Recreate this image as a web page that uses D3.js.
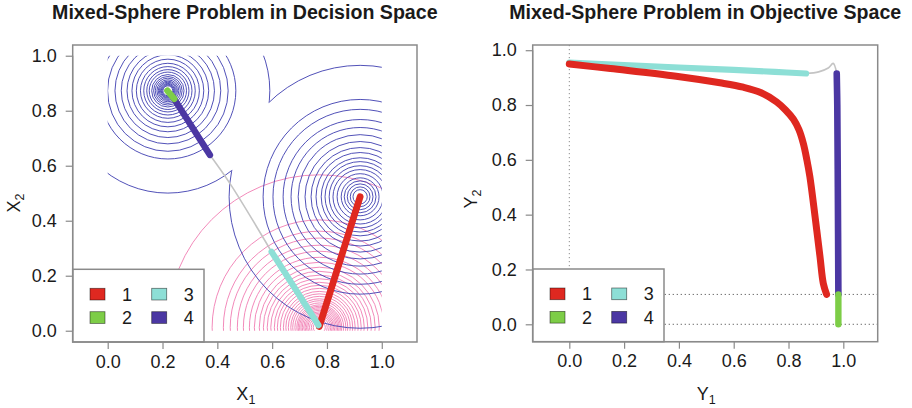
<!DOCTYPE html>
<html><head><meta charset="utf-8">
<script src="https://cdn.jsdelivr.net/npm/d3@7"></script>
<style>body{margin:0;background:#fff;} svg{display:block;font-family:"Liberation Sans",Arial,Helvetica,sans-serif;}</style>
</head><body><svg id="c" width="912" height="408"></svg>
<script>
// ---------- data ----------
const tickValues = [0, 0.2, 0.4, 0.6, 0.8, 1.0];
const tickLabels = ["0.0", "0.2", "0.4", "0.6", "0.8", "1.0"];
const legendLabels = ["1", "2", "3", "4"];
const setColors = ["#df2820", "#7dcd47", "#8ddfd6", "#4b37a3"];
const titles = ["Mixed-Sphere Problem in Decision Space", "Mixed-Sphere Problem in Objective Space"];

// decision space contours (centres and ring radii, data units)
const blueCenterA = [0.2195, 0.8725];
const blueCenterB = [0.921, 0.487];
const blueRadiiA = [0.018, 0.021, 0.024, 0.027, 0.031, 0.035, 0.040, 0.046, 0.052, 0.059, 0.068, 0.077, 0.088, 0.100, 0.115, 0.131, 0.149, 0.170, 0.193, 0.220, 0.248];
const blueRadiiB = [0.026, 0.036, 0.047, 0.058, 0.069, 0.084, 0.099, 0.113, 0.128, 0.142, 0.161, 0.179, 0.201, 0.226, 0.252, 0.281, 0.318, 0.354];
const blueSharedA = [0.372];   // same level as blueSharedB
const blueSharedB = [0.478];
const pinkCenter = [0.772, 0.012];
const pinkRadii = [0.022, 0.029, 0.036, 0.042, 0.047, 0.052, 0.057, 0.062, 0.067, 0.072, 0.077, 0.082, 0.089, 0.097, 0.104, 0.113, 0.122, 0.131, 0.142, 0.153, 0.164, 0.177, 0.190, 0.204, 0.219, 0.237, 0.255, 0.277, 0.299, 0.325, 0.350, 0.391, 0.555];

// decision space sets
const decSet1 = [[0.772, 0.015], [0.921, 0.487]];
const decSet2 = [[0.2176, 0.873], [0.243, 0.843]];
const decSet3 = [[0.598, 0.287], [0.769, 0.02]];
const decSet4 = [[0.238, 0.85], [0.373, 0.639]];
const decConnector = [[0.373, 0.639], [0.447, 0.534], [0.598, 0.287]];

// objective space sets
const objSet1 = [[0, 0.95], [0.15, 0.933], [0.39, 0.905], [0.55, 0.881], [0.635, 0.865], [0.70, 0.845], [0.757, 0.811], [0.79, 0.781], [0.818, 0.748], [0.838, 0.71], [0.854, 0.66], [0.867, 0.60], [0.878, 0.538], [0.897, 0.392], [0.915, 0.246], [0.927, 0.149], [0.939, 0.109]];
const objSet2 = [[0.982, 0.109], [0.982, 0.0]];
const objSet3 = [[0, 0.955], [0.2, 0.946], [0.4, 0.937], [0.6, 0.928], [0.75, 0.921], [0.864, 0.915]];
const objSet4 = [[0.976, 0.915], [0.978, 0.8], [0.98, 0.5], [0.982, 0.109]];
const objConnector = [[0.864, 0.915], [0.91, 0.921], [0.945, 0.935], [0.963, 0.952], [0.976, 0.915]];
const objRefX = [0];
const objRefY = [0.109, 0];

// ---------- drawing ----------
const svg = d3.select("#c");
const defs = svg.append("defs");
const boxColor = "#8a8a8a";
const textColor = "#1a1a1a";

function panel(opt) {
  const x = d3.scaleLinear().domain(opt.xd).range(opt.xr);
  const y = d3.scaleLinear().domain(opt.yd).range(opt.yr);
  const g = svg.append("g");
  return {x, y, g};
}

function axes(p, opt) {
  const xa = d3.axisBottom(p.x).tickValues(tickValues).tickFormat((d, i) => tickLabels[i]).tickSize(7).tickPadding(6).tickSizeOuter(0);
  const ya = d3.axisLeft(p.y).tickValues(tickValues).tickFormat((d, i) => tickLabels[i]).tickSize(7).tickPadding(9).tickSizeOuter(0);
  const gx = p.g.append("g").attr("transform", `translate(0,${p.y.range()[0]})`).call(xa);
  const gy = p.g.append("g").attr("transform", `translate(${p.x.range()[0]},0)`).call(ya);
  [gx, gy].forEach(a => {
    a.select(".domain").remove();
    a.selectAll(".tick line").attr("stroke", boxColor).attr("stroke-width", 1.2);
    a.selectAll(".tick text").attr("fill", textColor).style("font-size", "18px").style("font-family", '"Liberation Sans",Arial,sans-serif');
  });
  p.g.append("line").attr("x1", p.x(0)).attr("x2", p.x(1)).attr("y1", p.y.range()[0]).attr("y2", p.y.range()[0]).attr("stroke", boxColor).attr("stroke-width", 1.2);
  p.g.append("line").attr("y1", p.y(0)).attr("y2", p.y(1)).attr("x1", p.x.range()[0]).attr("x2", p.x.range()[0]).attr("stroke", boxColor).attr("stroke-width", 1.2);
  const cx = (p.x.range()[0] + p.x.range()[1]) / 2;
  p.g.append("text").attr("x", cx).attr("y", 18.5).attr("text-anchor", "middle")
    .attr("font-weight", "bold").style("font-size", "19.6px").attr("fill", textColor).text(opt.title);
  const xl = p.g.append("text").attr("x", cx + 1).attr("y", 400).attr("text-anchor", "middle").style("font-size", "18px").attr("fill", textColor);
  xl.append("tspan").text(opt.xlab);
  xl.append("tspan").attr("dy", 4).style("font-size", "12.5px").text("1");
  const yl = p.g.append("text").attr("transform", `translate(${opt.ylabX},${opt.ylabY}) rotate(-90)`).attr("text-anchor", "middle").style("font-size", "18px").attr("fill", textColor);
  yl.append("tspan").text(opt.ylab);
  yl.append("tspan").attr("dy", 4).style("font-size", "12.5px").text("2");
}

function box(p) {
  const [x0, x1] = p.x.range(); const [y0, y1] = p.y.range();
  p.g.append("rect").attr("x", x0).attr("y", y1).attr("width", x1 - x0).attr("height", y0 - y1)
    .attr("fill", "none").attr("stroke", boxColor).attr("stroke-width", 1.5);
}

function legend(p) {
  const lx = p.x.range()[0], ly = p.y.range()[0];
  const lg = p.g.append("g");
  lg.append("rect").attr("x", lx).attr("y", ly - 72.7).attr("width", 131.3).attr("height", 72.7)
    .attr("fill", "#fff").attr("stroke", boxColor).attr("stroke-width", 1.5);
  legendLabels.forEach((lab, i) => {
    const col = Math.floor(i / 2), row = i % 2;
    const sx = lx + 17.3 + col * 61.7, sy = ly - 53.7 + row * 23.4;
    lg.append("rect").attr("x", sx).attr("y", sy).attr("width", 15).attr("height", 11.7)
      .attr("fill", setColors[i]).attr("stroke", "rgba(0,0,0,0.55)").attr("stroke-width", 0.8);
    lg.append("text").attr("x", sx + 32).attr("y", sy + 12.4).style("font-size", "18px").attr("fill", textColor).text(lab);
  });
}

const line = (p) => d3.line().x(d => p.x(d[0])).y(d => p.y(d[1])).curve(d3.curveCatmullRom.alpha(0.5));

function drawSet(p, pts, color, w) {
  p.g.append("path").attr("d", line(p)(pts)).attr("fill", "none").attr("stroke", color)
    .attr("stroke-width", w).attr("stroke-linecap", "round").attr("stroke-linejoin", "round");
}

// ===== left panel =====
const L = panel({xd: [-0.1277, 1.1285], xr: [72.7, 417], yd: [-0.041, 1.039], yr: [342, 45]});
{
  const p = L;
  defs.append("clipPath").attr("id", "unitL").append("rect")
    .attr("x", p.x(0)).attr("y", p.y(1)).attr("width", p.x(1) - p.x(0)).attr("height", p.y(0) - p.y(1));
  const ell = (c, r) => {
    const cx = p.x(c[0]), cy = p.y(c[1]);
    const rx = p.x(c[0] + r) - cx, ry = cy - p.y(c[1] + r);
    return {cx, cy, rx, ry};
  };
  const cg = p.g.append("g").attr("clip-path", "url(#unitL)");
  pinkRadii.forEach(r => {
    const e = ell(pinkCenter, r);
    cg.append("ellipse").attr("cx", e.cx).attr("cy", e.cy).attr("rx", e.rx).attr("ry", e.ry)
      .attr("fill", "none").attr("stroke", "#f07db2").attr("stroke-width", 0.9);
  });
  const blue = "#4848b4";
  blueRadiiA.forEach(r => {
    const e = ell(blueCenterA, r);
    cg.append("ellipse").attr("cx", e.cx).attr("cy", e.cy).attr("rx", e.rx).attr("ry", e.ry)
      .attr("fill", "none").attr("stroke", blue).attr("stroke-width", 0.95);
  });
  blueRadiiB.forEach(r => {
    const e = ell(blueCenterB, r);
    cg.append("ellipse").attr("cx", e.cx).attr("cy", e.cy).attr("rx", e.rx).attr("ry", e.ry)
      .attr("fill", "none").attr("stroke", blue).attr("stroke-width", 0.95);
  });
  const ellPath = e => `M${e.cx - e.rx},${e.cy}a${e.rx},${e.ry} 0 1,0 ${2 * e.rx},0a${e.rx},${e.ry} 0 1,0 ${-2 * e.rx},0Z`;
  blueSharedA.forEach((ra, i) => {
    const ea = ell(blueCenterA, ra), eb = ell(blueCenterB, blueSharedB[i]);
    const big = "M-10,-10H930V420H-10Z";
    defs.append("clipPath").attr("id", "notB" + i).append("path").attr("clip-rule", "evenodd").attr("d", big + ellPath(eb));
    defs.append("clipPath").attr("id", "notA" + i).append("path").attr("clip-rule", "evenodd").attr("d", big + ellPath(ea));
    cg.append("g").attr("clip-path", `url(#notB${i})`).append("ellipse")
      .attr("cx", ea.cx).attr("cy", ea.cy).attr("rx", ea.rx).attr("ry", ea.ry)
      .attr("fill", "none").attr("stroke", blue).attr("stroke-width", 0.95);
    cg.append("g").attr("clip-path", `url(#notA${i})`).append("ellipse")
      .attr("cx", eb.cx).attr("cy", eb.cy).attr("rx", eb.rx).attr("ry", eb.ry)
      .attr("fill", "none").attr("stroke", blue).attr("stroke-width", 0.95);
  });
  p.g.append("path").attr("d", line(p)(decConnector)).attr("fill", "none").attr("stroke", "#c4c4c4").attr("stroke-width", 1.6);
  drawSet(p, decSet1, setColors[0], 6.8);
  drawSet(p, decSet3, setColors[2], 6.2);
  drawSet(p, decSet4, setColors[3], 6.4);
  drawSet(p, decSet2, setColors[1], 6.4);
  legend(p);
  box(p);
  axes(p, {title: titles[0], xlab: "X", ylab: "X", ylabX: 20, ylabY: 203});
}

// ===== right panel =====
const R = panel({xd: [-0.1336, 1.1255], xr: [532.7, 877.7], yd: [-0.0635, 1.019], yr: [341.7, 45]});
{
  const p = R;
  const [x0, x1] = p.x.range(); const [y0, y1] = p.y.range();
  objRefX.forEach(v => p.g.append("line").attr("x1", p.x(v)).attr("x2", p.x(v)).attr("y1", y1).attr("y2", y0)
    .attr("stroke", "#8c8c8c").attr("stroke-width", 1).attr("stroke-dasharray", "1.2,2.8"));
  objRefY.forEach(v => p.g.append("line").attr("x1", x0).attr("x2", x1).attr("y1", p.y(v)).attr("y2", p.y(v))
    .attr("stroke", "#5c5c5c").attr("stroke-width", 1).attr("stroke-dasharray", "1.2,2.8"));
  p.g.append("path").attr("d", line(p)(objConnector)).attr("fill", "none").attr("stroke", "#c4c4c4").attr("stroke-width", 1.6);
  drawSet(p, objSet3, setColors[2], 6.2);
  drawSet(p, objSet1, setColors[0], 7);
  drawSet(p, objSet4, setColors[3], 6.6);
  drawSet(p, objSet2, setColors[1], 6.4);
  legend(p);
  box(p);
  axes(p, {title: titles[1], xlab: "Y", ylab: "Y", ylabX: 476.5, ylabY: 199});
}
</script>
</body></html>
